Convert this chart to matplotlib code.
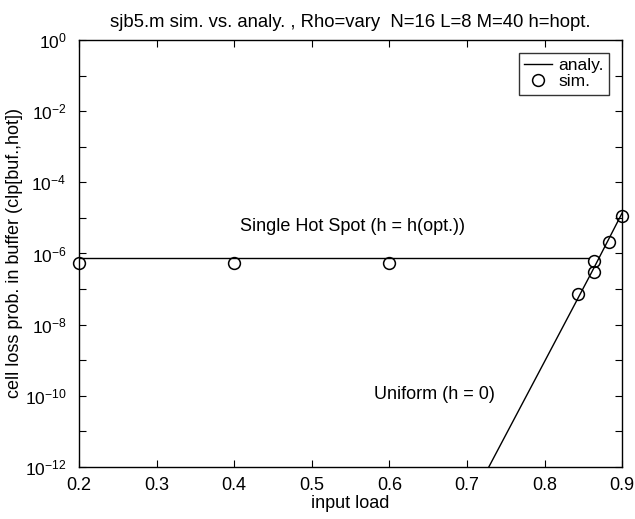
import matplotlib
matplotlib.use("Agg")
import matplotlib.pyplot as plt
import numpy as np

plt.rcParams['font.family'] = ['Liberation Sans', 'DejaVu Sans']
plt.rcParams['mathtext.fontset'] = 'custom'
plt.rcParams['mathtext.rm'] = 'Liberation Sans'
plt.rcParams['mathtext.it'] = 'Liberation Sans'

# analytic curves
hot_x = [0.2, 0.4, 0.6, 0.8, 0.856]
hot_y = [7.5e-7, 7.5e-7, 7.5e-7, 7.5e-7, 7.5e-7]
uni_x = [0.72, 0.80, 0.86, 0.90]
uni_y = [10**-12.33, 10**-9.03, 10**-6.55, 1.4e-5]

# simulation points
sim_x = [0.2, 0.4, 0.6, 0.843, 0.863, 0.864, 0.883, 0.9]
sim_y = [5.5e-7, 5.5e-7, 5.5e-7, 7.2e-8, 6.2e-7, 3.0e-7, 2.1e-6, 1.1e-5]

xticks = [0.2, 0.3, 0.4, 0.5, 0.6, 0.7, 0.8, 0.9]

fig = plt.figure(figsize=(6.35, 5.19), dpi=100)
ax = fig.add_axes([0.1244, 0.1002, 0.8556, 0.8228])

ax.plot(hot_x, hot_y, color='black', lw=1.0, label='analy.')
ax.plot(uni_x, uni_y, color='black', lw=1.0)
ax.plot(sim_x, sim_y, 'o', mfc='none', mec='black', ms=8.5, mew=1.1,
        label='sim.', clip_on=False)

ax.set_yscale('log')
ax.set_xlim(0.2, 0.9)
ax.set_ylim(1e-12, 1)
ax.set_xticks(xticks)
ax.set_xticklabels([f'{t:.1f}' for t in xticks])
decs = np.arange(-12, 1)
ax.set_yticks([10.0**d for d in decs])
ax.set_yticklabels([f'$10^{{{d}}}$' if d % 2 == 0 else '' for d in decs])
ax.minorticks_off()
ax.tick_params(direction='in', top=True, right=True, length=5)
ax.tick_params(axis='x', pad=7, labelsize=13)
ax.tick_params(axis='y', pad=9, labelsize=12.5)
for s in ax.spines.values():
    s.set_linewidth(1.0)

ax.text(0.407, 10**-5.25, 'Single Hot Spot (h = h(opt.))', fontsize=13, va='center')
ax.text(0.58, 10**-9.97, 'Uniform (h = 0)', fontsize=13, va='center')

ax.set_title('sjb5.m sim. vs. analy. , Rho=vary  N=16 L=8 M=40 h=hopt.', fontsize=13.3, pad=9)
ax.set_xlabel('input load', fontsize=13, labelpad=1)
ax.set_ylabel('cell loss prob. in buffer (clp[buf.,hot])', fontsize=13, labelpad=1)

leg = ax.legend(loc='upper right', fontsize=12.5, frameon=True, fancybox=False,
                edgecolor='black', handlelength=1.6, borderaxespad=0.75,
                handletextpad=0.4, labelspacing=0.05, borderpad=0.3)
leg.get_frame().set_linewidth(1.0)

fig.savefig('out.png', dpi=100)
